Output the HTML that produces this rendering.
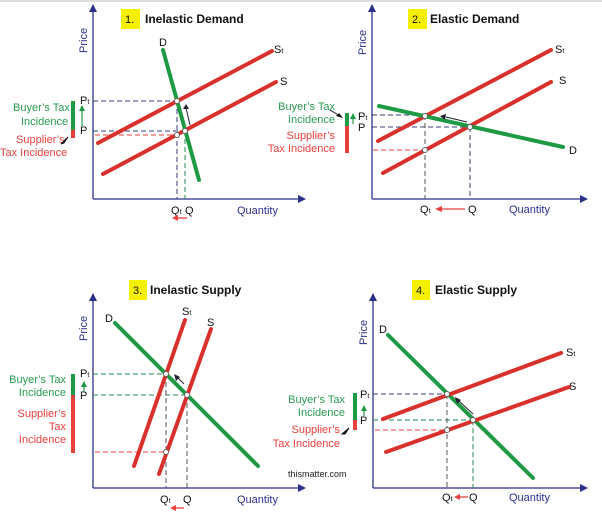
<!DOCTYPE html>
<html><head><meta charset="utf-8"><style>
html,body{margin:0;padding:0;background:#fff;}
svg{display:block;font-family:"Liberation Sans",Arial,sans-serif;}
.ax{stroke:#2a2f8a;stroke-width:1.3;fill:none}
.r{stroke:#d9302c;stroke-width:4;stroke-linecap:round}
.g{stroke:#1f9a44;stroke-width:4;stroke-linecap:round}
.db{stroke:#3a3f7a;stroke-width:1;stroke-dasharray:5,3}
.dg{stroke:#2d8a55;stroke-width:1;stroke-dasharray:5,3}
.dk{stroke:#555;stroke-width:1;stroke-dasharray:5,3}
.dr{stroke:#e8403c;stroke-width:1;stroke-dasharray:5,3}
.pt{fill:#fff;stroke:#666;stroke-width:1}
.lb{font-size:11px;fill:#111}
.tg{font-size:11px;fill:#2a9a50}
.tr{font-size:11px;fill:#e8403c}
.bl{font-size:11px;fill:#2a2f8a}
.tt{font-size:12px;font-weight:bold;fill:#111}
</style></head><body>
<svg width="602" height="519" viewBox="0 0 602 519">
<defs>
<marker id="ab" markerWidth="6" markerHeight="6" refX="3" refY="3" orient="auto"><path d="M0,0L6,3L0,6z" fill="#2a2f8a"/></marker>
</defs>
<rect x="0" y="0" width="602" height="2" fill="#ddd"/>

<!-- Panel 1 -->
<line class="ax" x1="93" y1="199" x2="93" y2="8"/><path d="M89,12L93,4L97,12z" fill="#2a2f8a"/>
<line class="ax" x1="93" y1="199" x2="300" y2="199"/><path d="M298,195L306,199L298,203z" fill="#2a2f8a"/>
<rect x="121" y="9" width="19" height="20" fill="#f5f000"/>
<text x="125" y="23" class="lb" font-size="12">1.</text>
<text x="145" y="23" class="tt">Inelastic Demand</text>
<text class="bl" transform="translate(87,53) rotate(-90)">Price</text>
<line class="db" x1="93" y1="101" x2="177" y2="101"/>
<line class="db" x1="93" y1="131" x2="185" y2="131"/>
<line class="dr" x1="95" y1="135" x2="177" y2="135"/>
<line class="db" x1="177" y1="101" x2="177" y2="199"/>
<line class="dg" x1="185" y1="131" x2="185" y2="199"/>
<line class="r" x1="98" y1="143" x2="272" y2="51"/>
<line class="r" x1="103" y1="174" x2="276" y2="82"/>
<line class="g" x1="163" y1="50" x2="199" y2="180"/>
<circle class="pt" cx="177" cy="101" r="2.5"/><circle class="pt" cx="185" cy="131" r="2.5"/><circle class="pt" cx="177" cy="135" r="2.5"/>
<line x1="190" y1="125" x2="186" y2="108" stroke="#223" stroke-width="1"/><path d="M183,109L186,104L189,109z" fill="#223"/>
<text x="159" y="46" class="lb">D</text><text x="274" y="53" class="lb">S<tspan font-size="7">t</tspan></text><text x="280" y="85" class="lb">S</text>
<text x="80" y="104" class="lb">P<tspan font-size="7">t</tspan></text><text x="80" y="134" class="lb">P</text>
<line x1="82" y1="126" x2="82" y2="110" stroke="#1f9a44" stroke-width="1.2"/><path d="M79,111L82,105L85,111z" fill="#1f9a44"/>
<rect x="71" y="101" width="4" height="30" fill="#1f9a44"/><rect x="71" y="130" width="4" height="8" fill="#e8403c"/>
<text x="13" y="111" class="tg">Buyer’s Tax</text><text x="21" y="125" class="tg">Incidence</text>
<text x="16" y="143" class="tr">Supplier’s</text><text x="0" y="156" class="tr">Tax Incidence</text>
<path d="M61,144L68,137L64,143z" fill="#111" stroke="#111"/>
<text x="171" y="214" class="lb">Q<tspan font-size="7">t</tspan></text><text x="185" y="214" class="lb">Q</text>
<text x="237" y="214" class="bl">Quantity</text>
<line x1="177" y1="218" x2="187" y2="218" stroke="#e8403c" stroke-width="1.3"/><path d="M178,215L172,218L178,221z" fill="#e8403c"/>

<!-- Panel 2 -->
<line class="ax" x1="372" y1="199" x2="372" y2="8"/><path d="M368,12L372,4L376,12z" fill="#2a2f8a"/>
<line class="ax" x1="372" y1="199" x2="582" y2="199"/><path d="M580,195L588,199L580,203z" fill="#2a2f8a"/>
<rect x="408" y="9" width="19" height="20" fill="#f5f000"/>
<text x="412" y="23" class="lb" font-size="12">2.</text>
<text x="430" y="23" class="tt">Elastic Demand</text>
<text class="bl" transform="translate(366,55) rotate(-90)">Price</text>
<line class="db" x1="372" y1="115" x2="425" y2="115"/>
<line class="db" x1="372" y1="127" x2="470" y2="127"/>
<line class="dr" x1="373" y1="150" x2="425" y2="150"/>
<line class="dk" x1="425" y1="115" x2="425" y2="199"/>
<line class="db" x1="470" y1="127" x2="470" y2="199"/>
<line class="r" x1="378" y1="141" x2="551" y2="50"/>
<line class="r" x1="383" y1="173" x2="551" y2="82"/>
<line class="g" x1="379" y1="106" x2="563" y2="147"/>
<circle class="pt" cx="425" cy="116" r="2.5"/><circle class="pt" cx="470" cy="127" r="2.5"/><circle class="pt" cx="425" cy="150" r="2.5"/>
<line x1="467" y1="122" x2="446" y2="117" stroke="#223" stroke-width="1"/><path d="M446,114L440,116L445,120z" fill="#223"/>
<text x="555" y="53" class="lb">S<tspan font-size="7">t</tspan></text><text x="559" y="84" class="lb">S</text><text x="569" y="154" class="lb">D</text>
<text x="358" y="120" class="lb">P<tspan font-size="7">t</tspan></text><text x="358" y="131" class="lb">P</text>
<line x1="353" y1="124" x2="353" y2="118" stroke="#1f9a44" stroke-width="1.2"/><path d="M350,119L353,113L356,119z" fill="#1f9a44"/>
<rect x="345" y="113" width="4" height="14" fill="#1f9a44"/><rect x="345" y="126" width="4" height="27" fill="#e8403c"/>
<text x="335" y="110" class="tg" text-anchor="end">Buyer’s Tax</text><text x="335" y="123" class="tg" text-anchor="end">Incidence</text>
<text x="335" y="139" class="tr" text-anchor="end">Supplier’s</text><text x="335" y="152" class="tr" text-anchor="end">Tax Incidence</text>
<path d="M343,118L336,116L339,113z" fill="#111"/><line x1="330" y1="110" x2="340" y2="116" stroke="#111" stroke-width="1"/>
<text x="420" y="213" class="lb">Q<tspan font-size="7">t</tspan></text><text x="468" y="213" class="lb">Q</text>
<text x="509" y="213" class="bl">Quantity</text>
<line x1="440" y1="209" x2="465" y2="209" stroke="#e8403c" stroke-width="1.3"/><path d="M442,206L435,209L442,212z" fill="#e8403c"/>

<!-- Panel 3 -->
<line class="ax" x1="93" y1="488" x2="93" y2="297"/><path d="M89,301L93,293L97,301z" fill="#2a2f8a"/>
<line class="ax" x1="93" y1="488" x2="300" y2="488"/><path d="M298,484L306,488L298,492z" fill="#2a2f8a"/>
<rect x="129" y="280" width="18" height="20" fill="#f5f000"/>
<text x="133" y="294" class="lb" font-size="12">3.</text>
<text x="150" y="294" class="tt">Inelastic Supply</text>
<text class="bl" transform="translate(87,341) rotate(-90)">Price</text>
<line class="dg" x1="93" y1="374" x2="166" y2="374"/>
<line class="dg" x1="93" y1="395" x2="187" y2="395"/>
<line class="dr" x1="95" y1="452" x2="166" y2="452"/>
<line class="dk" x1="166" y1="374" x2="166" y2="488"/>
<line class="dk" x1="187" y1="395" x2="187" y2="488"/>
<line class="g" x1="115" y1="323" x2="258" y2="466"/>
<line class="r" x1="134" y1="466" x2="185" y2="320"/>
<line class="r" x1="159" y1="474" x2="211" y2="329"/>
<circle class="pt" cx="166" cy="374" r="2.5"/><circle class="pt" cx="187" cy="395" r="2.5"/><circle class="pt" cx="166" cy="452" r="2.5"/>
<line x1="184" y1="384" x2="178" y2="378" stroke="#223" stroke-width="1"/><path d="M176,381L174,374L180,377z" fill="#223"/>
<text x="105" y="322" class="lb">D</text><text x="182" y="315" class="lb">S<tspan font-size="7">t</tspan></text><text x="207" y="326" class="lb">S</text>
<text x="80" y="377" class="lb">P<tspan font-size="7">t</tspan></text><text x="80" y="399" class="lb">P</text>
<line x1="84" y1="392" x2="84" y2="386" stroke="#1f9a44" stroke-width="1.2"/><path d="M81,387L84,381L87,387z" fill="#1f9a44"/>
<rect x="71" y="374" width="4" height="22" fill="#1f9a44"/><rect x="71" y="395" width="4" height="58" fill="#e8403c"/>
<text x="66" y="383" class="tg" text-anchor="end">Buyer’s Tax</text><text x="66" y="396" class="tg" text-anchor="end">Incidence</text>
<text x="66" y="417" class="tr" text-anchor="end">Supplier’s</text><text x="66" y="430" class="tr" text-anchor="end">Tax</text><text x="66" y="443" class="tr" text-anchor="end">Incidence</text>
<text x="288" y="477" font-size="9" fill="#222">thismatter.com</text>
<text x="160" y="503" class="lb">Q<tspan font-size="7">t</tspan></text><text x="183" y="503" class="lb">Q</text>
<text x="237" y="503" class="bl">Quantity</text>
<line x1="175" y1="508" x2="184" y2="508" stroke="#e8403c" stroke-width="1.3"/><path d="M176,505L170,508L176,511z" fill="#e8403c"/>

<!-- Panel 4 -->
<line class="ax" x1="373" y1="488" x2="373" y2="297"/><path d="M369,301L373,293L377,301z" fill="#2a2f8a"/>
<line class="ax" x1="373" y1="488" x2="582" y2="488"/><path d="M580,484L588,488L580,492z" fill="#2a2f8a"/>
<rect x="412" y="280" width="18" height="20" fill="#f5f000"/>
<text x="416" y="294" class="lb" font-size="12">4.</text>
<text x="435" y="294" class="tt">Elastic Supply</text>
<text class="bl" transform="translate(367,345) rotate(-90)">Price</text>
<line class="db" x1="373" y1="394" x2="447" y2="394"/>
<line class="dg" x1="373" y1="420" x2="473" y2="420"/>
<line class="dr" x1="375" y1="430" x2="447" y2="430"/>
<line class="dk" x1="447" y1="394" x2="447" y2="488"/>
<line class="dg" x1="473" y1="420" x2="473" y2="488"/>
<line class="g" x1="388" y1="335" x2="533" y2="478"/>
<line class="r" x1="383" y1="419" x2="561" y2="353"/>
<line class="r" x1="386" y1="452" x2="569" y2="387"/>
<circle class="pt" cx="447" cy="394" r="2.5"/><circle class="pt" cx="473" cy="420" r="2.5"/><circle class="pt" cx="447" cy="430" r="2.5"/>
<line x1="473" y1="414" x2="459" y2="401" stroke="#223" stroke-width="1"/><path d="M457,404L455,397L461,400z" fill="#223"/>
<text x="379" y="333" class="lb">D</text><text x="566" y="356" class="lb">S<tspan font-size="7">t</tspan></text><text x="569" y="390" class="lb">S</text>
<text x="360" y="398" class="lb">P<tspan font-size="7">t</tspan></text><text x="360" y="424" class="lb">P</text>
<line x1="364" y1="416" x2="364" y2="410" stroke="#1f9a44" stroke-width="1.2"/><path d="M361,411L364,405L367,411z" fill="#1f9a44"/>
<rect x="353" y="393" width="4" height="28" fill="#1f9a44"/><rect x="353" y="420" width="4" height="10" fill="#e8403c"/>
<text x="345" y="403" class="tg" text-anchor="end">Buyer’s Tax</text><text x="345" y="416" class="tg" text-anchor="end">Incidence</text>
<text x="340" y="433" class="tr" text-anchor="end">Supplier’s</text><text x="340" y="447" class="tr" text-anchor="end">Tax Incidence</text>
<path d="M342,434L349,428L345,434z" fill="#111" stroke="#111"/>
<text x="442" y="501" class="lb">Q<tspan font-size="7">t</tspan></text><text x="469" y="501" class="lb">Q</text>
<text x="509" y="501" class="bl">Quantity</text>
<line x1="458" y1="497" x2="468" y2="497" stroke="#e8403c" stroke-width="1.3"/><path d="M460,494L454,497L460,500z" fill="#e8403c"/>
</svg>
</body></html>
